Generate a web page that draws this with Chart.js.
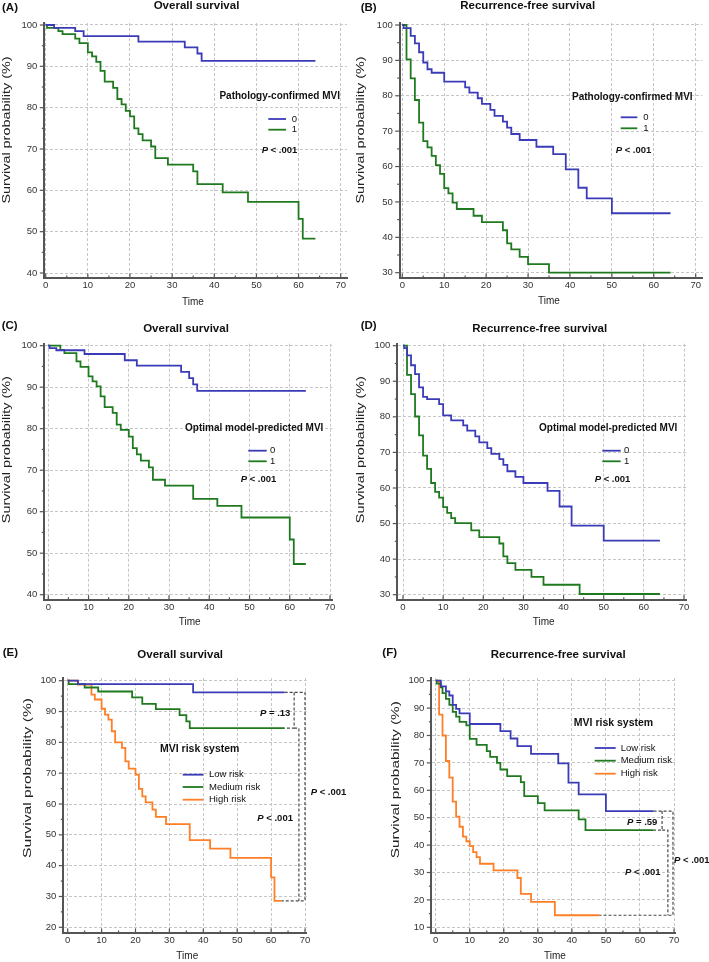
<!DOCTYPE html>
<html>
<head>
<meta charset="utf-8">
<script src="https://cdn.jsdelivr.net/npm/chart.js@4.4.1/dist/chart.umd.min.js"></script>
<style>
body { margin: 0; background: #fff; width: 709px; height: 962px; position: relative; overflow: hidden; }
canvas { position: absolute; }
</style>
</head>
<body>
<canvas id="cA" width="354" height="318" style="left:0px;top:0px"></canvas>
<canvas id="cB" width="355" height="318" style="left:354px;top:0px"></canvas>
<canvas id="cC" width="354" height="320" style="left:0px;top:318px"></canvas>
<canvas id="cD" width="355" height="320" style="left:354px;top:318px"></canvas>
<canvas id="cE" width="354" height="324" style="left:0px;top:638px"></canvas>
<canvas id="cF" width="355" height="324" style="left:354px;top:638px"></canvas>
<script>
// tick labels
var xTickVals = [0, 10, 20, 30, 40, 50, 60, 70];
var yTicksOs = [40, 50, 60, 70, 80, 90, 100];
var yTicksRfs = [30, 40, 50, 60, 70, 80, 90, 100];
var yTicksRiskOs = [20, 30, 40, 50, 60, 70, 80, 90, 100];
var yTicksRiskRfs = [10, 20, 30, 40, 50, 60, 70, 80, 90, 100];

var groupLabels = ['0', '1'];
var riskLabels = ['Low risk', 'Medium risk', 'High risk'];

// (A) overall survival, pathology-confirmed MVI
var osPathT0 = [0, 2, 7, 9, 22, 33, 36, 37, 64];
var osPathS0 = [100, 99.3, 98.5, 97.3, 96.0, 94.6, 93.1, 91.3, 91.3];
var osPathT1 = [0, 0.3, 3, 4, 7, 8, 10, 11, 12, 13, 14, 16, 17, 18, 19, 20, 21, 22, 23, 25, 26, 29, 35, 36, 42, 48, 60, 61, 64];
var osPathS1 = [100, 99.3, 98.5, 97.8, 96.7, 95.6, 93.4, 92.4, 91.1, 88.9, 86.3, 84.8, 82.1, 80.8, 79.2, 77.9, 75.0, 73.6, 72.1, 70.6, 67.8, 66.2, 64.6, 61.5, 59.5, 57.2, 53.1, 48.3, 48.3];

// (B) recurrence-free survival, pathology-confirmed MVI
var rfsPathT0 = [0, 0.3, 2, 3, 4, 5, 6, 7, 10, 15, 16, 18, 19, 21, 22, 24, 25, 26, 28, 32, 36, 39, 42, 44, 50, 64];
var rfsPathS0 = [100, 99.1, 96.9, 94.8, 92.3, 89.4, 87.5, 86.5, 84.0, 82.4, 80.9, 79.3, 77.7, 76.0, 74.3, 72.7, 71.0, 69.2, 67.5, 65.6, 63.5, 59.2, 54.0, 51.0, 46.8, 46.8];
var rfsPathT1 = [0, 1, 2, 3, 4, 5, 6, 7, 8, 9, 10, 11, 12, 13, 17, 19, 24, 25, 26, 28, 30, 35, 64];
var rfsPathS1 = [100, 90.3, 84.9, 78.8, 72.4, 67.2, 65.4, 63.0, 60.4, 57.9, 53.9, 52.4, 49.8, 48.0, 46.1, 44.3, 42.0, 38.3, 36.6, 34.5, 32.4, 30.0, 30.0];

// (C) overall survival, model-predicted MVI
var osModelT0 = [0, 0.3, 2, 9, 19, 22, 33, 35, 36, 37, 64];
var osModelS0 = [100, 99.4, 98.9, 98.0, 96.5, 95.2, 93.7, 92.2, 90.7, 89.1, 89.1];
var osModelT1 = [0, 3, 4, 7, 8, 10, 11, 12, 13, 14, 16, 17, 18, 20, 21, 22, 23, 25, 26, 29, 36, 42, 48, 60, 61, 64];
var osModelS1 = [100, 99.0, 98.2, 96.2, 94.9, 92.6, 91.4, 90.2, 87.8, 85.2, 83.8, 81.0, 79.7, 78.1, 75.3, 73.8, 72.3, 70.7, 67.7, 66.3, 63.1, 61.4, 58.6, 53.3, 47.4, 47.4];

// (D) recurrence-free survival, model-predicted MVI
var rfsModelT0 = [0, 0.3, 1, 2, 3, 4, 5, 6, 9, 10, 12, 15, 16, 18, 19, 21, 22, 24, 25, 26, 28, 30, 36, 39, 42, 50, 64];
var rfsModelS0 = [100, 99.3, 97.3, 94.5, 92.0, 88.3, 85.6, 85.0, 83.6, 80.4, 79.0, 77.6, 76.1, 74.5, 72.8, 71.2, 69.6, 68.1, 66.5, 64.7, 63.1, 61.4, 59.2, 54.8, 49.4, 45.2, 45.2];
var rfsModelT1 = [0, 1, 2, 3, 4, 5, 6, 7, 8, 9, 10, 11, 12, 13, 17, 19, 24, 25, 26, 28, 32, 35, 44, 64];
var rfsModelS1 = [100, 91.8, 86.4, 80.1, 74.8, 69.1, 65.4, 61.4, 58.9, 57.3, 54.6, 53.0, 51.5, 50.1, 48.1, 46.2, 44.4, 40.8, 38.9, 37.0, 35.0, 32.8, 30.2, 30.2];

// (E) overall survival, MVI risk system
var osLowT = [0, 3, 37, 64];
var osLowS = [100, 98.9, 96.2, 96.2];
var osMedT = [0, 0.3, 5, 9, 19, 22, 26, 33, 35, 36, 64];
var osMedS = [100, 98.9, 97.8, 96.5, 94.6, 92.5, 90.8, 88.8, 86.8, 84.6, 84.6];
var osHighT = [0, 3, 7, 8, 10, 11, 12, 13, 14, 16, 17, 18, 20, 21, 22, 23, 25, 26, 29, 36, 42, 48, 60, 61, 63];
var osHighS = [100, 98.7, 95.5, 93.9, 90.9, 89.0, 87.4, 83.6, 80.0, 78.2, 73.8, 71.5, 69.5, 64.9, 62.5, 60.5, 58.2, 55.8, 53.5, 48.3, 45.5, 42.5, 36.2, 28.6, 28.6];

// (F) recurrence-free survival, MVI risk system
var rfsLowT = [0, 1.5, 3, 4, 5, 6, 7, 10, 19, 22, 24, 28, 36, 39, 42, 50, 64];
var rfsLowS = [100, 97.9, 96.1, 94.6, 91.2, 89.7, 88.1, 84.2, 81.6, 78.9, 76.1, 73.3, 69.8, 62.8, 58.5, 52.4, 52.4];
var rfsMedT = [0, 0.3, 1.5, 2, 3, 4, 5, 6, 7, 9, 10, 12, 15, 16, 18, 19, 21, 25, 26, 30, 32, 42, 44, 64];
var rfsMedS = [100, 98.9, 97.6, 95.5, 93.4, 91.2, 88.6, 86.9, 85.0, 83.7, 78.8, 76.6, 74.3, 72.2, 70.0, 67.6, 65.2, 63.0, 57.9, 55.3, 52.7, 49.4, 45.5, 45.5];
var rfsHighT = [0, 1, 2, 3, 4, 5, 6, 7, 8, 9, 10, 11, 12, 13, 17, 24, 25, 28, 35, 48];
var rfsHighS = [100, 87.6, 80.0, 70.7, 64.6, 55.9, 50.4, 46.7, 43.1, 41.4, 39.6, 37.4, 35.6, 33.2, 30.8, 28.0, 22.2, 19.3, 14.4, 14.4];

const FONT = '"Liberation Sans", Arial, sans-serif';
const BLUE = '#3b3bb8', GREEN = '#1f7a1f', ORANGE = '#ff7f27';

function steps(times, surv) {
    return times.map((t, i) => ({x: t, y: surv[i]}));
}

function kmSet(label, times, surv, color) {
    return {label: label, data: steps(times, surv), borderColor: color, borderWidth: 1.8,
            stepped: true, pointRadius: 0, fill: false};
}

function dashSet(points) {
    return {label: '', data: points, borderColor: '#4a4a4a', borderWidth: 1.2,
            borderDash: [3, 2], pointRadius: 0, fill: false, stepped: false};
}

// dashed comparison brackets joining the ends of the three risk curves
function bracketSets(curves, pos) {
    var ends = curves.map(c => [c[0][c[0].length - 1], c[1][c[1].length - 1]]);
    var lo = ends[0], md = ends[1], hi = ends[2];
    return [
        dashSet([{x: lo[0], y: lo[1]}, {x: pos[2], y: lo[1]}, {x: pos[2], y: hi[1]}, {x: hi[0], y: hi[1]}]),
        dashSet([{x: pos[0], y: lo[1]}, {x: pos[0], y: md[1]}, {x: md[0], y: md[1]}]),
        dashSet([{x: pos[0], y: md[1]}, {x: pos[1], y: md[1]}, {x: pos[1], y: hi[1]}])
    ];
}

function makeDeco(d) {
    return {
        id: 'deco',
        afterDraw(chart) {
            var ctx = chart.ctx, area = chart.chartArea;
            var xs = chart.scales.x, ys = chart.scales.y;
            ctx.save();
            // small tick marks
            ctx.strokeStyle = '#555';
            ctx.lineWidth = 1.2;
            for (var v = 0; v <= 70; v += 5) {
                var px = xs.getPixelForValue(v);
                var len = v % 10 ? 2.5 : 4.5;
                ctx.beginPath(); ctx.moveTo(px, area.bottom); ctx.lineTo(px, area.bottom - len); ctx.stroke();
            }
            var y0 = ys.ticks[0].value;
            for (var w = y0; w <= 100; w += 5) {
                var py = ys.getPixelForValue(w);
                var l2 = (w - y0) % 10 ? 2.5 : 4.5;
                ctx.beginPath(); ctx.moveTo(area.left, py); ctx.lineTo(area.left - l2, py); ctx.stroke();
            }
            ctx.fillStyle = '#111';
            ctx.textBaseline = 'middle';
            // panel letter and title
            ctx.font = 'bold 11.5px ' + FONT;
            ctx.textAlign = 'left';
            ctx.fillText(d.letter, d.letterX, d.letterY);
            ctx.textAlign = 'center';
            ctx.fillText(d.title, d.titleX, d.titleY);
            // legend
            var lg = d.legend;
            ctx.font = 'bold ' + lg.size + 'px ' + FONT;
            ctx.fillText(lg.title, lg.titleX, lg.titleY);
            ctx.font = '9.5px ' + FONT;
            ctx.textAlign = 'left';
            chart.data.datasets.filter(s => s.stepped).forEach((s, i) => {
                ctx.strokeStyle = s.borderColor;
                ctx.lineWidth = 1.8;
                ctx.beginPath(); ctx.moveTo(lg.x1, lg.rows[i]); ctx.lineTo(lg.x2, lg.rows[i]); ctx.stroke();
                ctx.fillText(s.label, lg.labelX, lg.rows[i]);
            });
            // p values
            d.pValues.forEach(p => {
                ctx.font = 'italic bold 9.5px ' + FONT;
                ctx.fillText('P', p.x, p.y);
                var pw = ctx.measureText('P').width;
                ctx.font = 'bold 9.5px ' + FONT;
                ctx.fillText(p.text, p.x + pw, p.y);
            });
            // axis titles
            ctx.fillStyle = '#222';
            ctx.font = '10px ' + FONT;
            ctx.textAlign = 'center';
            ctx.fillText('Time', d.xTitle[0], d.xTitle[1]);
            var yt = 'Survival probability (%)';
            ctx.translate(d.yTitle[0], d.yTitle[1]);
            ctx.rotate(-Math.PI / 2);
            ctx.scale(d.yTitle[2] / ctx.measureText(yt).width, 1);
            ctx.fillText(yt, 0, 0);
            ctx.restore();
        }
    };
}

function makePanel(id, g, datasets, yTicks, deco) {
    var canvas = document.getElementById(id);
    var xppu = (g.x70 - g.x0) / 70;
    var yppu = (g.yLoPx - g.yHiPx) / (100 - yTicks[0]);
    var YW = 30, XH = 22;
    var tickFont = {family: FONT, size: 9.5};
    return new Chart(canvas, {
        type: 'line',
        data: {datasets: datasets},
        options: {
            responsive: false,
            animation: false,
            events: [],
            layout: {padding: {left: g.axisX - YW, right: canvas.width - g.xEnd,
                               top: g.top, bottom: canvas.height - g.axisY - XH}},
            plugins: {legend: {display: false}, tooltip: {enabled: false}},
            scales: {
                x: {
                    type: 'linear', bounds: 'data',
                    min: -(g.x0 - g.axisX) / xppu,
                    max: 70 + (g.xEnd - g.x70) / xppu,
                    afterBuildTicks: s => { s.ticks = xTickVals.map(v => ({value: v})); },
                    afterFit: s => { s.height = XH; },
                    grid: {color: '#c6c6c6', lineWidth: 1, drawTicks: false},
                    border: {display: true, color: '#555', width: 2, dash: [3, 2]},
                    ticks: {font: tickFont, color: '#333', padding: 2, maxRotation: 0, autoSkip: false}
                },
                y: {
                    type: 'linear', bounds: 'data',
                    min: yTicks[0] - (g.axisY - g.yLoPx) / yppu,
                    max: 100 + (g.yHiPx - g.top) / yppu,
                    afterBuildTicks: s => { s.ticks = yTicks.map(v => ({value: v})); },
                    afterFit: s => { s.width = YW; },
                    grid: {color: '#c6c6c6', lineWidth: 1, drawTicks: false},
                    border: {display: true, color: '#555', width: 2, dash: [3, 2]},
                    ticks: {font: tickFont, color: '#333', padding: 7, autoSkip: false}
                }
            }
        },
        plugins: [makeDeco(deco)]
    });
}

// (A)
makePanel('cA',
    {axisX: 44.3, x0: 45.7, x70: 340.7, xEnd: 347, top: 23, yHiPx: 25, yLoPx: 273, axisY: 278},
    [kmSet(groupLabels[0], osPathT0, osPathS0, BLUE), kmSet(groupLabels[1], osPathT1, osPathS1, GREEN)],
    yTicksOs,
    {letter: '(A)', letterX: 2, letterY: 8, title: 'Overall survival', titleX: 196.5, titleY: 6,
     legend: {title: 'Pathology-confirmed MVI', size: 10, titleX: 279.7, titleY: 96.7,
              x1: 268.3, x2: 286, labelX: 291.7, rows: [119, 129.7]},
     pValues: [{text: ' < .001', x: 261.7, y: 150}],
     xTitle: [193, 302], yTitle: [7.3, 130, 147]});

// (B)
makePanel('cB',
    {axisX: 45.7, x0: 48.3, x70: 341.7, xEnd: 348.3, top: 23, yHiPx: 25, yLoPx: 272.7, axisY: 278},
    [kmSet(groupLabels[0], rfsPathT0, rfsPathS0, BLUE), kmSet(groupLabels[1], rfsPathT1, rfsPathS1, GREEN)],
    yTicksRfs,
    {letter: '(B)', letterX: 6.7, letterY: 8, title: 'Recurrence-free survival', titleX: 173.7, titleY: 6,
     legend: {title: 'Pathology-confirmed MVI', size: 10, titleX: 278.3, titleY: 97,
              x1: 266.7, x2: 283.3, labelX: 289.3, rows: [117.3, 128.3]},
     pValues: [{text: ' < .001', x: 261.7, y: 150}],
     xTitle: [195, 301.7], yTitle: [7.3, 130, 147]});

// (C)
makePanel('cC',
    {axisX: 44.3, x0: 48.3, x70: 330, xEnd: 332.3, top: 25.7, yHiPx: 27.7, yLoPx: 276.7, axisY: 281.7},
    [kmSet(groupLabels[0], osModelT0, osModelS0, BLUE), kmSet(groupLabels[1], osModelT1, osModelS1, GREEN)],
    yTicksOs,
    {letter: '(C)', letterX: 1.7, letterY: 8, title: 'Overall survival', titleX: 186, titleY: 11,
     legend: {title: 'Optimal model-predicted MVI', size: 10, titleX: 254.2, titleY: 110,
              x1: 248.3, x2: 266.7, labelX: 270, rows: [132.7, 143.3]},
     pValues: [{text: ' < .001', x: 240.7, y: 161}],
     xTitle: [189.7, 304], yTitle: [7.3, 131.7, 147]});

// (D)
makePanel('cD',
    {axisX: 43.3, x0: 49, x70: 330, xEnd: 332.3, top: 25.7, yHiPx: 27.7, yLoPx: 276.7, axisY: 281.7},
    [kmSet(groupLabels[0], rfsModelT0, rfsModelS0, BLUE), kmSet(groupLabels[1], rfsModelT1, rfsModelS1, GREEN)],
    yTicksRfs,
    {letter: '(D)', letterX: 6.7, letterY: 8, title: 'Recurrence-free survival', titleX: 185.7, titleY: 11,
     legend: {title: 'Optimal model-predicted MVI', size: 10, titleX: 254.2, titleY: 110,
              x1: 248.3, x2: 266.7, labelX: 270, rows: [132.7, 143.3]},
     pValues: [{text: ' < .001', x: 240.7, y: 161}],
     xTitle: [189.7, 304], yTitle: [7.3, 131.7, 147]});

// (E)
makePanel('cE',
    {axisX: 63.3, x0: 67.7, x70: 305, xEnd: 306.7, top: 40, yHiPx: 42.7, yLoPx: 289.3, axisY: 295},
    [kmSet(riskLabels[0], osLowT, osLowS, BLUE), kmSet(riskLabels[1], osMedT, osMedS, GREEN),
     kmSet(riskLabels[2], osHighT, osHighS, ORANGE)]
        .concat(bracketSets([[osLowT, osLowS], [osMedT, osMedS], [osHighT, osHighS]], [66.8, 68.2, 70])),
    yTicksRiskOs,
    {letter: '(E)', letterX: 2.7, letterY: 15, title: 'Overall survival', titleX: 180.2, titleY: 16.7,
     legend: {title: 'MVI risk system', size: 10.5, titleX: 199.7, titleY: 111,
              x1: 182.7, x2: 203.3, labelX: 209, rows: [136.7, 149, 161.7]},
     pValues: [{text: ' = .13', x: 260, y: 75.7}, {text: ' < .001', x: 257.3, y: 180},
               {text: ' < .001', x: 310.7, y: 154}],
     xTitle: [187.3, 318.3], yTitle: [28.3, 140, 160]});

// (F)
makePanel('cF',
    {axisX: 77.3, x0: 81.7, x70: 320, xEnd: 321.7, top: 40, yHiPx: 42.7, yLoPx: 289.3, axisY: 295},
    [kmSet(riskLabels[0], rfsLowT, rfsLowS, BLUE), kmSet(riskLabels[1], rfsMedT, rfsMedS, GREEN),
     kmSet(riskLabels[2], rfsHighT, rfsHighS, ORANGE)]
        .concat(bracketSets([[rfsLowT, rfsLowS], [rfsMedT, rfsMedS], [rfsHighT, rfsHighS]], [66.5, 68.2, 69.7])),
    yTicksRiskRfs,
    {letter: '(F)', letterX: 28.3, letterY: 15, title: 'Recurrence-free survival', titleX: 204.2, titleY: 16.7,
     legend: {title: 'MVI risk system', size: 10.5, titleX: 259.5, titleY: 85,
              x1: 240.7, x2: 261.7, labelX: 266.7, rows: [110, 122.7, 135.7]},
     pValues: [{text: ' = .59', x: 273, y: 184}, {text: ' < .001', x: 271, y: 234.7},
               {text: ' < .001', x: 320, y: 222.7}],
     xTitle: [201, 318.3], yTitle: [42.7, 141.7, 157]});
</script>
</body>
</html>
